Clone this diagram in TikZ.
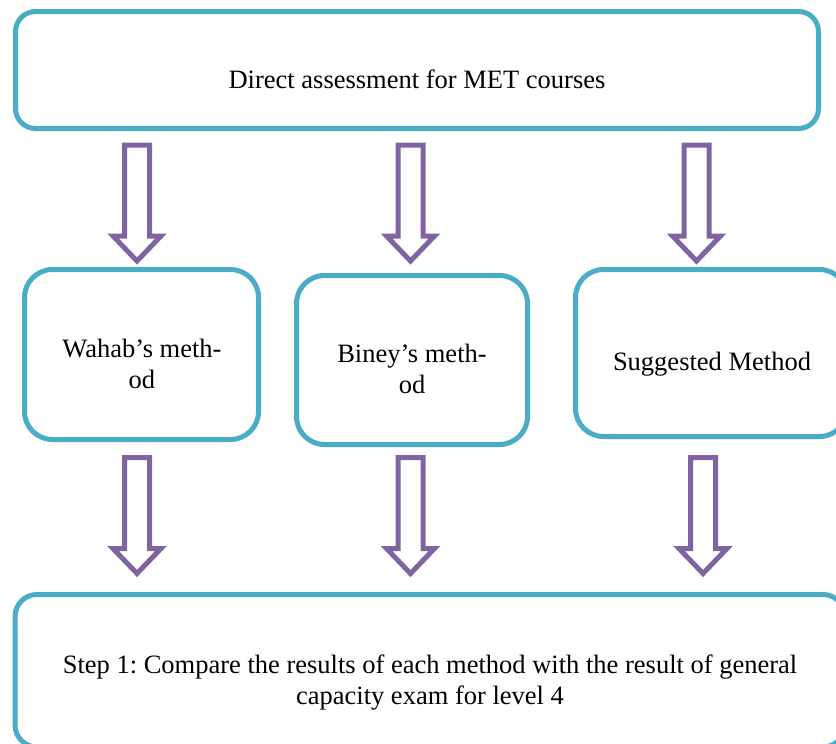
\documentclass[tikz,border=0pt]{standalone}
\usepackage{fontspec}
\setmainfont{Liberation Serif}
\usepackage{color}
\frenchspacing
\definecolor{boxteal}{RGB}{75,172,198}
\definecolor{arrowpurple}{RGB}{128,100,162}
\tikzset{
  box/.style={draw=boxteal, line width=5pt, rounded corners=28pt, fill=white, inner sep=0pt},
  boxtext/.style={anchor=base, align=center, inner sep=0pt, font=\fontsize{26.5}{31}\selectfont},
  pics/downarrow/.style={code={
    \draw[draw=arrowpurple, line width=5pt, fill=white]
      (-12.5,0) -- (-12.5,91) -- (-24,91) -- (0,116) -- (24,91) -- (12.5,91) -- (12.5,0) -- cycle;}}
}

\begin{document}
\begin{tikzpicture}[x=1pt, y=-1pt]
\useasboundingbox (0,0) rectangle (836,744);
% boxes
\node[box, rounded corners=20pt, minimum width=803pt, minimum height=117pt] (top) at (417,70) {};
\node[box, minimum width=234pt, minimum height=170pt] (wahab) at (141.5,354.5) {};
\node[box, minimum width=231pt, minimum height=169pt] (biney) at (412,360) {};
\node[box, minimum width=272pt, minimum height=167pt] (suggested) at (711.5,353) {};
\node[box, rounded corners=22pt, minimum width=830pt, minimum height=152.5pt] (step) at (430,670.75) {};
% texts (base = last line)
\node[boxtext] (toptxt) at (417,88) {Direct assessment for MET courses};
\node[boxtext] (wahabtxt) at (142,388) {Wahab's meth-\\od};
\node[boxtext] (bineytxt) at (412,393) {Biney's meth-\\od};
\node[boxtext] (suggestedtxt) at (712,370.5) {Suggested Method};
\node[boxtext] (steptxt) at (430,704) {Step 1: Compare the results of each method with the result of general\\capacity exam for level 4};
% block arrows
\foreach \x in {137,410.5,696.5} \pic at (\x,145) {downarrow};
\foreach \x in {137,410.5,703} \pic at (\x,457.5) {downarrow};
\end{tikzpicture}
\end{document}
